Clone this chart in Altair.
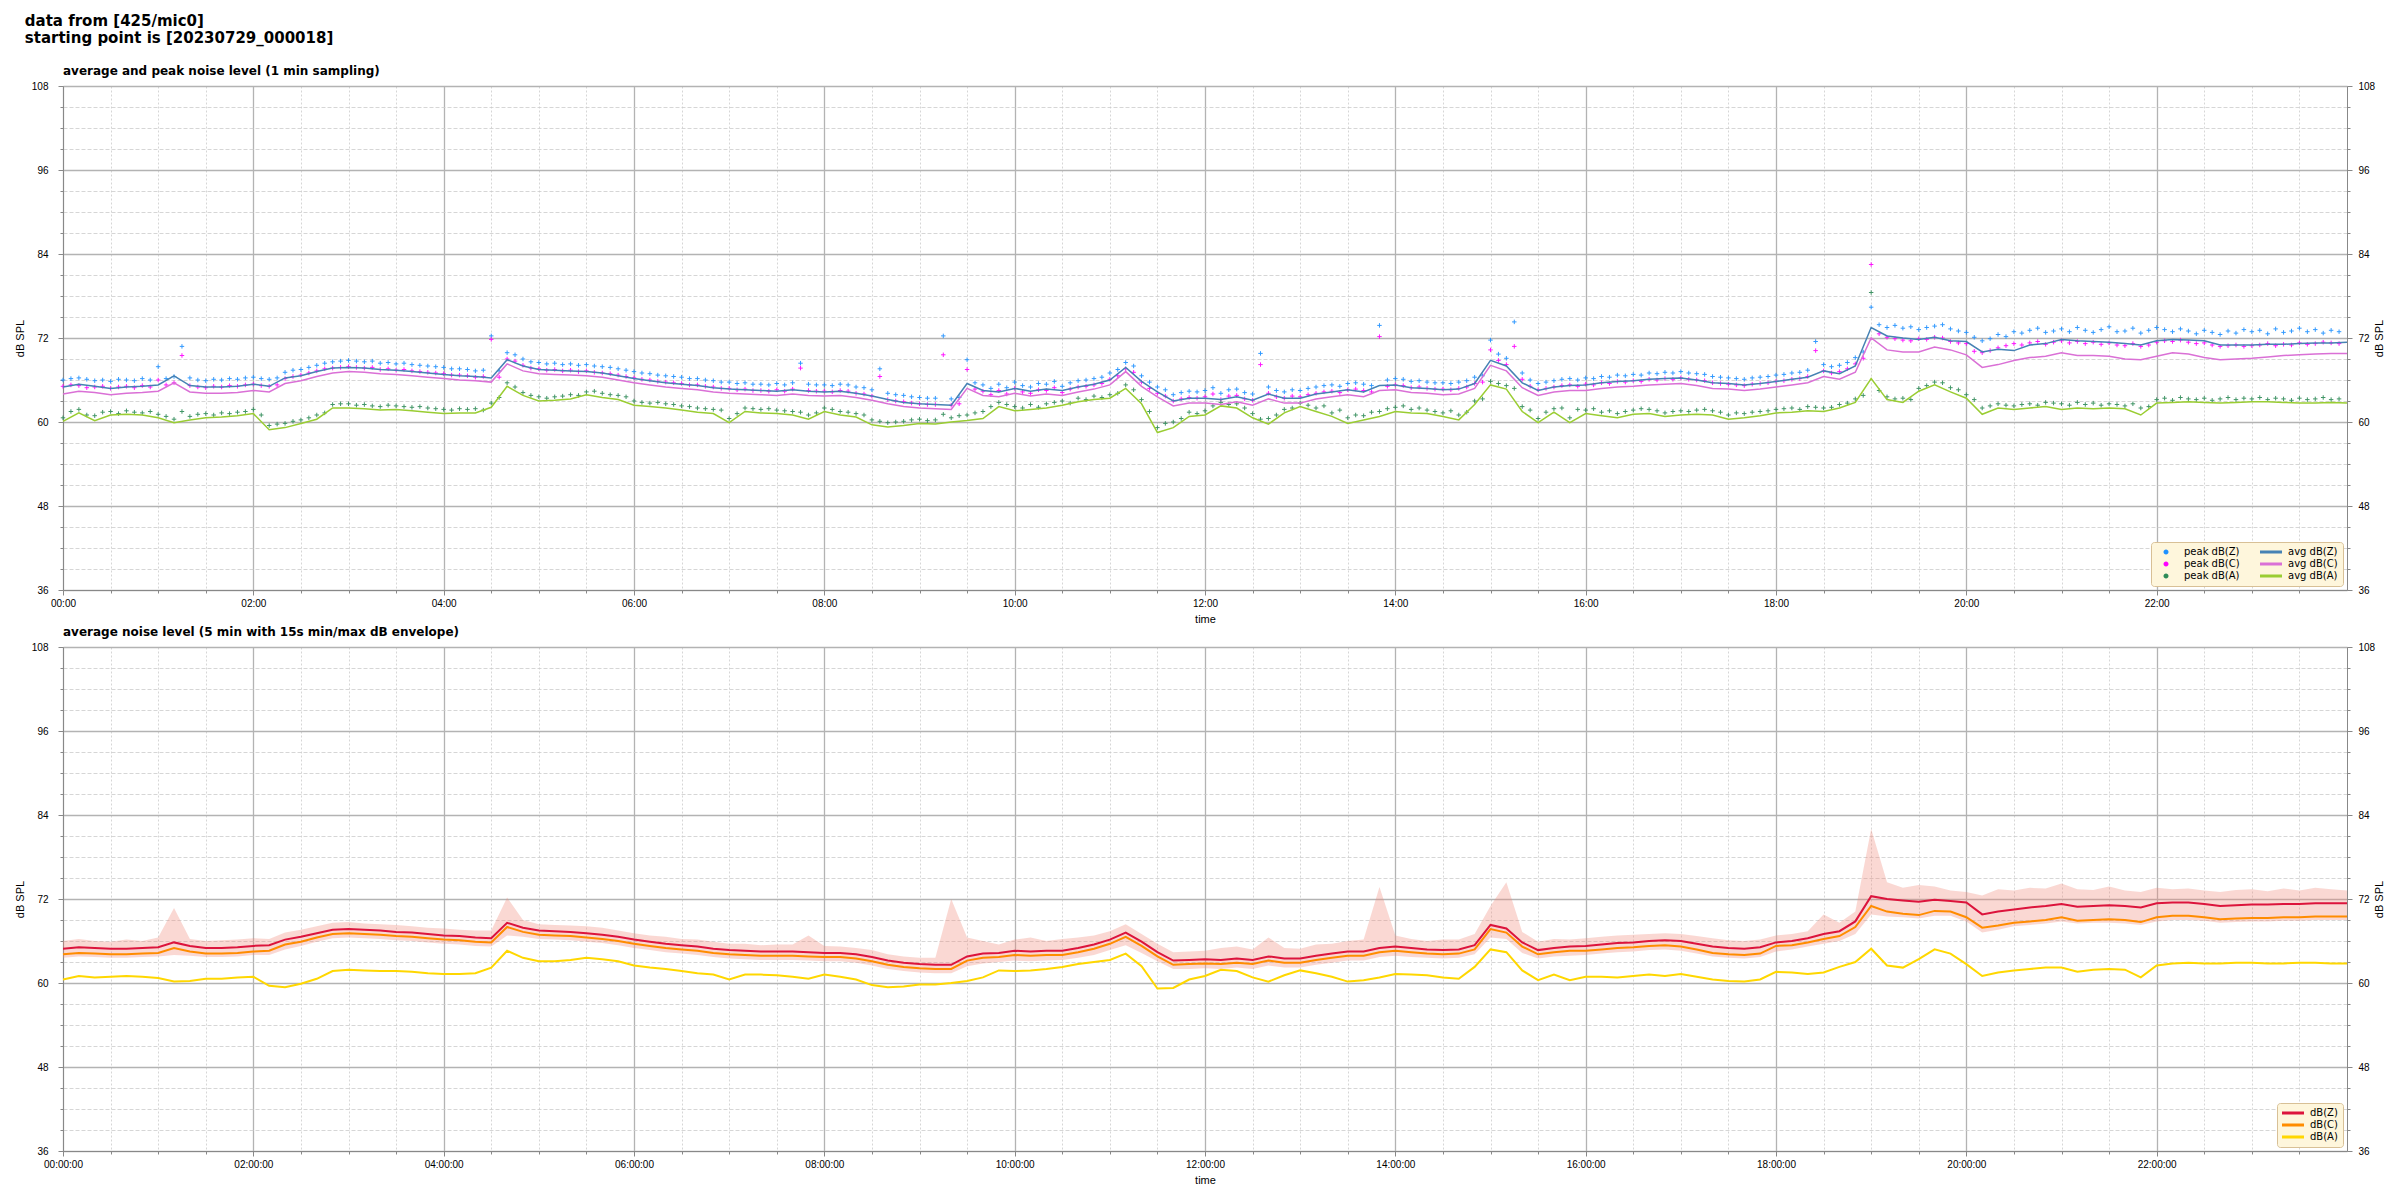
import altair as alt
import pandas as pd

# ---------------- data ----------------
T10 = list(range(0, 1441, 10))      # minutes, 10-min samples (145)
T5 = list(range(0, 1440, 5))        # minutes, 5-min samples (288)

# top panel: 1-min averages (sampled every 10 min)
avg_z = [65.0, 65.4, 65.1, 64.8, 65.0, 65.1,
         65.3, 66.6, 65.2, 65.0, 65.0, 65.1,
         65.4, 65.1, 66.3, 66.6, 67.2, 67.7,
         67.8, 67.7, 67.5, 67.4, 67.2, 67.0,
         66.8, 66.6, 66.5, 66.3, 68.9, 68.0,
         67.5, 67.4, 67.3, 67.2, 67.0, 66.6,
         66.2, 65.9, 65.6, 65.4, 65.2, 64.9,
         64.7, 64.6, 64.5, 64.4, 64.6, 64.4,
         64.3, 64.4, 64.1, 63.7, 63.2, 62.8,
         62.6, 62.5, 62.4, 65.5, 64.5, 64.3,
         64.8, 64.4, 64.7, 64.5, 65.0, 65.4,
         66.0, 67.8, 65.8, 64.3, 63.0, 63.4,
         63.4, 63.2, 63.6, 63.1, 64.0, 63.4,
         63.4, 64.0, 64.3, 64.6, 64.3, 65.2,
         65.3, 64.9, 64.8, 64.6, 64.7, 65.5,
         68.8, 68.0, 65.6, 64.5, 65.0, 65.2,
         65.3, 65.6, 65.8, 65.9, 66.1, 66.2,
         66.3, 66.0, 65.6, 65.5, 65.3, 65.5,
         65.8, 66.1, 66.4, 67.3, 66.9, 68.0,
         73.5, 72.3, 72.0, 71.8, 72.1, 71.6,
         71.5, 70.0, 70.4, 70.2, 71.0, 71.2,
         71.8, 71.6, 71.5, 71.4, 71.2, 71.0,
         71.6, 71.8, 71.7, 71.6, 71.0, 71.0,
         71.0, 71.1, 71.1, 71.2, 71.3, 71.3,
         71.4]
avg_c = [64.0, 64.4, 64.2, 63.9, 64.1, 64.2,
         64.4, 65.6, 64.3, 64.1, 64.1, 64.2,
         64.5, 64.3, 65.5, 65.9, 66.5, 67.0,
         67.2, 67.1, 66.9, 66.8, 66.6, 66.4,
         66.2, 66.0, 65.9, 65.7, 68.3, 67.3,
         66.9, 66.8, 66.7, 66.6, 66.4, 66.0,
         65.6, 65.3, 65.0, 64.8, 64.6, 64.3,
         64.1, 64.0, 63.9, 63.8, 64.0, 63.8,
         63.7, 63.8, 63.5, 63.1, 62.6, 62.2,
         62.0, 61.9, 61.8, 64.8, 63.8, 63.6,
         64.1, 63.7, 64.0, 63.8, 64.3, 64.7,
         65.3, 67.2, 65.1, 63.6, 62.3, 62.7,
         62.7, 62.5, 62.9, 62.4, 63.3, 62.7,
         62.7, 63.3, 63.6, 63.9, 63.6, 64.5,
         64.6, 64.2, 64.1, 63.9, 64.0, 64.8,
         68.1, 67.3, 64.9, 63.8, 64.3, 64.5,
         64.5, 64.8, 65.0, 65.1, 65.3, 65.4,
         65.5, 65.2, 64.8, 64.7, 64.5, 64.7,
         65.0, 65.3, 65.6, 66.5, 66.1, 67.1,
         72.0, 70.3, 70.0, 70.0, 70.7, 70.3,
         69.6, 67.8, 68.2, 68.8, 69.2, 69.4,
         69.9, 69.5, 69.5, 69.4, 69.0, 68.9,
         69.4, 69.9, 69.7, 69.2, 68.9, 69.0,
         69.1, 69.3, 69.5, 69.6, 69.7, 69.8,
         69.8]
avg_a = [60.1, 61.3, 60.2, 61.0, 61.1, 61.0,
         60.6, 59.9, 60.3, 60.6, 60.7, 60.9,
         61.2, 58.9, 59.2, 59.8, 60.4, 62.0,
         62.0, 61.9, 61.7, 61.8, 61.6, 61.4,
         61.2, 61.3, 61.3, 62.1, 65.1, 63.8,
         63.0, 63.1, 63.3, 63.9, 63.5, 63.2,
         62.4, 62.2, 62.0, 61.7, 61.4, 61.2,
         59.9, 61.5, 61.3, 61.2, 61.0, 60.4,
         61.5, 61.0, 60.7, 59.6, 59.3, 59.5,
         59.8, 59.7, 60.0, 60.2, 60.5, 62.2,
         61.6, 61.8, 62.0, 62.4, 62.9, 63.2,
         63.4, 64.8, 62.6, 58.5, 59.2, 60.8,
         61.0, 62.3, 62.0, 60.6, 59.7, 61.3,
         62.2, 61.5, 60.8, 59.8, 60.3, 60.8,
         61.5, 61.3, 61.2, 60.8, 60.3, 62.5,
         65.3, 64.7, 61.5, 59.9, 61.4, 59.9,
         61.2, 60.9, 60.6, 61.1, 61.2, 60.8,
         61.0, 61.1, 61.0, 60.4, 60.6, 60.9,
         61.3, 61.4, 61.6, 61.5, 62.0, 62.8,
         66.2, 63.2, 62.8, 64.4, 65.3, 64.3,
         63.4, 61.1, 62.0, 61.8, 62.0, 62.2,
         61.8, 62.0, 61.9, 62.0, 61.9, 61.0,
         62.7, 62.8, 62.9, 62.8, 62.7, 62.8,
         62.9, 62.9, 62.8, 62.7, 62.7, 62.8,
         62.7]

# top panel: 1-min peaks (sampled every 5 min)
peak_z = [66.0, 66.2, 66.3, 66.1, 65.9, 66.0, 65.8, 66.1, 66.0, 65.9, 66.2, 66.0,
          67.9, 66.2, 66.5, 70.8, 66.3, 66.0, 65.9, 66.1, 66.0, 66.2, 66.1, 66.3,
          66.4, 66.2, 66.1, 66.3, 67.1, 67.4, 67.5, 67.8, 68.1, 68.4, 68.6, 68.7,
          68.8, 68.7, 68.6, 68.7, 68.4, 68.5, 68.3, 68.4, 68.2, 68.1, 68.0, 67.9,
          67.8, 67.6, 67.6, 67.5, 67.3, 67.4, 72.3, 67.3, 69.9, 69.6, 69.0, 68.6,
          68.5, 68.3, 68.4, 68.2, 68.3, 68.1, 68.2, 68.0, 67.9, 67.8, 67.6, 67.4,
          67.2, 67.0, 66.9, 66.7, 66.6, 66.5, 66.4, 66.2, 66.2, 66.0, 65.9, 65.7,
          65.7, 65.5, 65.6, 65.4, 65.4, 65.3, 65.5, 65.3, 65.6, 68.4, 65.4, 65.3,
          65.3, 65.2, 65.4, 65.3, 65.0, 64.9, 64.6, 67.6, 64.1, 63.9, 63.8, 63.6,
          63.5, 63.4, 63.4, 72.3, 63.3, 63.5, 68.9, 65.6, 65.3, 64.8, 65.4, 64.9,
          65.7, 65.2, 65.0, 65.5, 65.4, 65.8, 65.1, 65.6, 65.9, 66.0, 66.2, 66.4,
          67.0, 67.5, 68.5, 68.0, 66.6, 65.7, 65.0, 64.6, 63.9, 64.2, 64.4, 64.3,
          64.5, 64.9, 64.1, 64.6, 64.7, 64.2, 64.0, 69.8, 65.0, 64.5, 64.3, 64.6,
          64.5, 64.8, 65.0, 65.2, 65.3, 65.1, 65.5, 65.6, 65.4, 65.2, 73.8, 66.0,
          66.2, 66.1, 65.8, 65.9, 65.7, 65.6, 65.6, 65.5, 65.7, 65.9, 66.4, 66.6,
          71.7, 69.7, 69.1, 74.3, 67.0, 66.0, 65.5, 65.7, 65.9, 66.1, 66.2, 66.0,
          66.3, 66.2, 66.5, 66.4, 66.7, 66.6, 66.8, 66.7, 67.0, 66.9, 67.1, 67.0,
          67.2, 67.0, 66.9, 66.8, 66.5, 66.4, 66.3, 66.2, 66.1, 66.3, 66.4, 66.5,
          66.7, 66.8, 67.0, 67.1, 67.4, 71.5, 68.2, 67.9, 68.1, 68.5, 69.2, 70.0,
          76.4, 73.9, 73.5, 73.8, 73.4, 73.6, 73.2, 73.5, 73.7, 73.9, 73.3, 73.0,
          72.8, 72.1, 71.6, 71.9, 72.5, 72.2, 72.9, 72.7, 73.1, 73.4, 72.8, 73.0,
          73.3, 72.9, 73.5, 73.1, 72.8, 73.2, 73.6, 72.9, 73.0, 73.4, 72.7, 73.1,
          73.5, 73.2, 72.9, 73.3, 73.0, 72.6, 73.1, 72.8, 72.5, 73.0, 72.7, 73.2,
          72.9, 73.1, 72.6, 73.3, 72.8, 73.0, 73.4, 72.9, 73.2, 72.7, 73.1, 72.9]
peak_c = [65.1, 65.3, 65.2, 64.9, 65.0, 65.1, 64.8, 65.0, 65.1, 64.9, 65.2, 65.0,
          66.0, 65.3, 65.6, 69.5, 65.2, 65.0, 64.9, 65.1, 65.0, 65.2, 65.1, 65.3,
          65.4, 65.2, 65.1, 65.3, 66.2, 66.5, 66.7, 67.0, 67.3, 67.6, 67.7, 67.8,
          67.9, 67.8, 67.7, 67.8, 67.5, 67.6, 67.4, 67.5, 67.3, 67.2, 67.1, 67.0,
          66.9, 66.7, 66.7, 66.6, 66.4, 66.5, 71.8, 66.4, 69.0, 68.7, 68.1, 67.7,
          67.6, 67.4, 67.5, 67.3, 67.4, 67.2, 67.3, 67.1, 67.0, 66.9, 66.7, 66.5,
          66.3, 66.1, 66.0, 65.8, 65.7, 65.6, 65.5, 65.3, 65.3, 65.1, 65.0, 64.8,
          64.8, 64.6, 64.7, 64.5, 64.5, 64.4, 64.6, 64.4, 64.7, 67.7, 64.5, 64.4,
          64.4, 64.3, 64.5, 64.4, 64.1, 64.0, 63.7, 66.5, 63.2, 63.0, 62.9, 62.7,
          62.6, 62.5, 62.5, 69.6, 62.4, 62.6, 67.5, 64.7, 64.4, 63.9, 64.5, 64.0,
          64.8, 64.3, 64.1, 64.6, 64.5, 64.9, 64.2, 64.7, 65.0, 65.1, 65.3, 65.5,
          66.1, 66.6, 67.6, 67.1, 65.7, 64.8, 64.1, 63.7, 63.0, 63.3, 63.5, 63.4,
          63.6, 64.0, 63.2, 63.7, 63.8, 63.3, 63.1, 68.2, 64.1, 63.6, 63.4, 63.7,
          63.6, 63.9, 64.1, 64.3, 64.4, 64.2, 64.6, 64.7, 64.5, 64.3, 72.2, 65.1,
          65.3, 65.2, 64.9, 65.0, 64.8, 64.7, 64.7, 64.6, 64.8, 65.0, 65.5, 65.7,
          70.3, 68.8, 68.2, 70.8, 66.1, 65.1, 64.6, 64.8, 65.0, 65.2, 65.3, 65.1,
          65.4, 65.3, 65.6, 65.5, 65.8, 65.7, 65.9, 65.8, 66.1, 66.0, 66.2, 66.1,
          66.3, 66.1, 66.0, 65.9, 65.6, 65.5, 65.4, 65.3, 65.2, 65.4, 65.5, 65.6,
          65.8, 65.9, 66.1, 66.2, 66.5, 70.2, 67.3, 67.0, 67.2, 67.6, 68.3, 69.1,
          82.5, 72.6, 72.1, 71.9, 71.7, 71.6, 71.9, 71.8, 72.1, 72.0, 71.5, 71.3,
          71.2, 70.1, 69.9, 70.2, 70.6, 70.9, 71.2, 71.0, 71.3, 71.5, 71.1, 71.4,
          71.6, 71.3, 71.5, 71.2, 71.4, 71.1, 71.3, 71.0, 70.9, 71.2, 70.8, 71.0,
          71.4, 71.6, 71.5, 71.7, 71.4, 71.2, 71.3, 71.0, 70.8, 70.9, 71.0, 70.8,
          70.9, 71.0, 71.2, 70.9, 71.1, 71.0, 71.3, 71.1, 71.2, 71.4, 71.3, 71.2]
peak_a = [60.6, 61.5, 61.8, 61.0, 60.9, 61.4, 61.5, 61.2, 61.6, 61.4, 61.3, 61.5,
          61.1, 60.8, 60.4, 61.5, 60.8, 61.1, 61.2, 61.0, 61.3, 61.2, 61.4, 61.5,
          61.8, 61.0, 59.5, 59.7, 59.8, 60.1, 60.3, 60.6, 61.0, 61.3, 62.5, 62.6,
          62.6, 62.4, 62.5, 62.3, 62.2, 62.4, 62.3, 62.2, 62.1, 62.2, 62.0, 61.9,
          61.8, 61.7, 61.9, 61.8, 61.9, 61.7, 62.7, 63.5, 65.6, 65.0, 64.2, 63.8,
          63.6, 63.4, 63.6, 63.7, 63.9, 63.8, 64.3, 64.4, 64.1, 63.9, 63.8, 63.6,
          63.0, 62.8, 62.7, 62.8, 62.6, 62.5, 62.3, 62.2, 62.0, 61.9, 61.8, 61.7,
          60.5, 61.2, 62.0, 61.9, 61.8, 61.9, 61.7, 61.6, 61.5, 61.4, 61.0, 61.3,
          62.0, 61.8, 61.5, 61.4, 61.2, 61.0, 60.3, 60.1, 59.9, 60.0, 60.1, 60.3,
          60.4, 60.2, 60.3, 61.1, 60.6, 60.9, 61.0, 61.3, 61.5, 62.2, 62.8, 62.5,
          62.2, 62.0, 62.5, 62.1, 62.6, 62.8, 63.0, 62.7, 63.4, 63.2, 63.7, 63.5,
          63.9, 64.1, 65.3, 64.6, 63.2, 61.5, 59.2, 59.8, 60.0, 60.5, 61.4, 61.2,
          61.6, 62.3, 62.8, 62.5, 62.6, 62.0, 61.2, 60.4, 60.5, 61.0, 61.8, 62.0,
          62.7, 62.4, 62.0, 62.3, 61.3, 61.7, 60.6, 61.0, 60.9, 61.4, 61.5, 61.9,
          62.1, 62.3, 61.8, 62.0, 61.7, 61.5, 61.3, 61.6, 61.0, 61.4, 63.0, 63.3,
          65.8, 65.5, 65.2, 64.8, 62.2, 61.7, 60.5, 61.4, 61.9, 62.0, 60.6, 61.8,
          61.7, 61.9, 61.4, 61.6, 61.2, 61.5, 61.7, 61.9, 61.8, 61.6, 61.3, 61.5,
          61.6, 61.5, 61.7, 61.8, 61.6, 61.4, 61.0, 61.3, 61.2, 61.4, 61.5, 61.6,
          61.8, 61.9, 62.0, 61.8, 62.2, 62.1, 62.0, 62.1, 62.5, 62.7, 63.3, 63.8,
          78.5, 64.5, 63.6, 63.3, 63.4, 63.2, 64.8, 65.2, 65.7, 65.6, 64.9, 64.6,
          63.9, 63.2, 62.0, 62.3, 62.6, 62.4, 62.3, 62.5, 62.6, 62.4, 62.8, 62.7,
          62.6, 62.4, 62.8, 62.5, 62.7, 62.4, 62.6, 62.5, 62.3, 62.6, 62.0, 62.2,
          63.2, 63.4, 63.1, 63.5, 63.3, 63.2, 63.4, 63.1, 63.3, 63.5, 63.2, 63.4,
          63.3, 63.5, 63.2, 63.4, 63.3, 63.1, 63.4, 63.2, 63.3, 63.5, 63.2, 63.3]

# bottom panel: 5-min averages (sampled every 10 min) and 15 s min/max envelope
bot_z = [64.9, 65.1, 65.0, 64.9, 64.9, 65.0,
         65.1, 65.8, 65.3, 65.0, 65.0, 65.1,
         65.3, 65.4, 66.2, 66.6, 67.1, 67.6,
         67.7, 67.6, 67.5, 67.3, 67.2, 67.0,
         66.8, 66.7, 66.5, 66.4, 68.6, 67.9,
         67.5, 67.4, 67.3, 67.1, 66.9, 66.6,
         66.2, 65.9, 65.6, 65.4, 65.2, 64.9,
         64.7, 64.6, 64.5, 64.5, 64.5, 64.4,
         64.3, 64.3, 64.1, 63.7, 63.2, 62.9,
         62.7, 62.6, 62.6, 63.8, 64.2, 64.3,
         64.6, 64.5, 64.6, 64.6, 65.0, 65.5,
         66.2, 67.2, 65.9, 64.4, 63.2, 63.3,
         63.4, 63.3, 63.5, 63.3, 63.8, 63.5,
         63.5, 63.9, 64.2, 64.5, 64.5, 65.0,
         65.2, 65.0, 64.8, 64.7, 64.8, 65.4,
         68.3, 67.8, 65.8, 64.7, 65.0, 65.2,
         65.3, 65.5, 65.7, 65.8, 66.0, 66.1,
         66.0, 65.6, 65.2, 65.0, 64.9, 65.1,
         65.8, 66.0, 66.4, 67.0, 67.4, 68.8,
         72.4, 72.0, 71.8, 71.6, 71.9, 71.7,
         71.5, 69.8, 70.2, 70.5, 70.8, 71.0,
         71.3, 70.9, 71.0, 71.1, 71.0, 70.8,
         71.4, 71.5, 71.5, 71.3, 71.0, 71.1,
         71.2, 71.2, 71.3, 71.3, 71.4, 71.4,
         71.4]
bot_c = [64.1, 64.3, 64.2, 64.1, 64.1, 64.2,
         64.3, 65.0, 64.5, 64.2, 64.2, 64.3,
         64.5, 64.6, 65.5, 65.9, 66.5, 67.0,
         67.1, 67.0, 66.9, 66.7, 66.6, 66.4,
         66.2, 66.1, 65.9, 65.8, 68.0, 67.3,
         66.9, 66.8, 66.7, 66.5, 66.3, 66.0,
         65.6, 65.3, 65.0, 64.8, 64.6, 64.3,
         64.1, 64.0, 63.9, 63.9, 63.9, 63.8,
         63.7, 63.7, 63.5, 63.1, 62.6, 62.3,
         62.1, 62.0, 62.0, 63.2, 63.6, 63.7,
         64.0, 63.9, 64.0, 64.0, 64.4, 64.9,
         65.6, 66.6, 65.3, 63.8, 62.6, 62.7,
         62.8, 62.7, 62.9, 62.7, 63.2, 62.9,
         62.9, 63.3, 63.6, 63.9, 63.9, 64.4,
         64.6, 64.4, 64.2, 64.1, 64.2, 64.8,
         67.7, 67.2, 65.2, 64.1, 64.4, 64.6,
         64.6, 64.8, 65.0, 65.1, 65.3, 65.4,
         65.2, 64.8, 64.3, 64.1, 64.0, 64.2,
         65.3, 65.4, 65.8, 66.3, 66.7, 68.0,
         71.0, 70.2, 69.9, 69.7, 70.3, 70.2,
         69.4, 67.9, 68.2, 68.6, 68.8, 69.0,
         69.4, 68.9, 69.0, 69.1, 69.0, 68.7,
         69.4, 69.6, 69.6, 69.4, 69.1, 69.2,
         69.3, 69.3, 69.4, 69.4, 69.5, 69.5,
         69.5]
bot_a = [60.5, 61.0, 60.8, 60.9, 61.0, 60.9,
         60.7, 60.2, 60.3, 60.6, 60.6, 60.8,
         60.9, 59.6, 59.4, 59.9, 60.6, 61.7,
         61.9, 61.8, 61.7, 61.7, 61.6, 61.4,
         61.3, 61.3, 61.4, 62.2, 64.6, 63.6,
         63.1, 63.1, 63.3, 63.6, 63.4, 63.1,
         62.5, 62.2, 62.0, 61.7, 61.4, 61.2,
         60.5, 61.2, 61.2, 61.1, 60.9, 60.6,
         61.2, 60.9, 60.5, 59.7, 59.4, 59.5,
         59.8, 59.8, 60.0, 60.3, 60.8, 61.8,
         61.7, 61.8, 62.0, 62.3, 62.7, 63.0,
         63.3, 64.2, 62.4, 59.2, 59.3, 60.5,
         61.0, 61.9, 61.7, 60.8, 60.2, 61.1,
         61.8, 61.4, 60.9, 60.2, 60.4, 60.8,
         61.3, 61.2, 61.1, 60.8, 60.6, 62.3,
         64.8, 64.4, 61.8, 60.4, 61.2, 60.4,
         60.9, 60.9, 60.8, 61.0, 61.2, 61.0,
         61.3, 60.9, 60.5, 60.3, 60.2, 60.5,
         61.6, 61.5, 61.3, 61.5, 62.3, 63.0,
         64.9, 62.5, 62.2, 63.4, 64.8, 64.2,
         62.7, 61.0, 61.5, 61.8, 62.0, 62.2,
         62.2, 61.6, 61.9, 62.0, 61.9, 60.8,
         62.5, 62.8, 62.9, 62.8, 62.8, 62.9,
         62.9, 62.8, 62.8, 62.9, 62.9, 62.8,
         62.8]
env_hi = [66.0, 66.3, 66.0, 65.9, 66.2, 66.0,
          66.5, 70.7, 66.3, 66.0, 66.1, 66.2,
          66.4, 66.3, 67.2, 67.6, 68.1, 68.6,
          68.7, 68.5, 68.4, 68.3, 68.1, 67.9,
          67.8, 67.6, 67.5, 67.5, 72.2, 69.0,
          68.4, 68.3, 68.2, 68.1, 67.9, 67.5,
          67.1, 66.8, 66.6, 66.3, 66.2, 65.9,
          65.6, 65.6, 65.4, 65.5, 65.5, 66.8,
          65.3, 65.2, 65.0, 64.7, 64.1, 63.8,
          63.6, 63.6, 72.0, 66.5, 66.0, 65.5,
          66.2, 66.5, 66.0, 66.3, 66.5, 66.8,
          67.4, 68.4, 67.0, 65.6, 64.4, 64.5,
          64.6, 65.0, 65.2, 64.8, 66.5, 65.0,
          64.9, 65.5, 65.6, 66.0, 66.2, 73.7,
          66.8, 66.3, 66.0, 66.2, 66.2, 67.0,
          71.0, 74.4, 67.3, 65.9, 66.3, 66.2,
          66.4, 66.6, 66.8, 66.9, 67.0, 67.1,
          67.0, 66.7, 66.4, 66.1, 66.0, 66.2,
          66.8, 67.0, 67.4, 69.8, 68.6, 70.2,
          82.0, 74.4, 73.6, 74.0, 73.8, 73.2,
          73.0, 72.5, 73.4, 73.2, 73.6, 73.5,
          74.2, 73.4, 73.3, 73.8, 73.2, 73.0,
          73.6, 73.4, 73.5, 73.2, 73.0, 73.3,
          73.4, 73.1, 73.5, 73.2, 73.6, 73.4,
          73.2]
env_lo = [63.6, 63.8, 63.7, 63.6, 63.6, 63.7,
          63.8, 64.0, 63.9, 63.7, 63.7, 63.8,
          64.0, 64.0, 64.8, 65.3, 65.9, 66.4,
          66.5, 66.4, 66.3, 66.1, 66.0, 65.8,
          65.6, 65.5, 65.3, 65.2, 66.8, 66.6,
          66.3, 66.2, 66.1, 65.9, 65.7, 65.4,
          65.0, 64.7, 64.4, 64.2, 64.0, 63.7,
          63.5, 63.4, 63.3, 63.3, 63.3, 63.2,
          63.1, 63.1, 62.9, 62.5, 62.0, 61.7,
          61.5, 61.4, 61.4, 62.4, 62.8, 63.0,
          63.2, 63.1, 63.2, 63.3, 63.6, 64.0,
          64.7, 65.4, 64.3, 63.1, 62.0, 62.0,
          62.1, 62.0, 62.2, 62.0, 62.5, 62.2,
          62.2, 62.6, 62.9, 63.2, 63.2, 63.7,
          63.9, 63.7, 63.6, 63.5, 63.6, 64.1,
          66.5, 66.3, 64.3, 63.5, 63.8, 63.9,
          64.0, 64.2, 64.4, 64.5, 64.7, 64.8,
          64.6, 64.2, 63.8, 63.6, 63.5, 63.7,
          64.5, 64.8, 65.2, 65.6, 66.0, 67.0,
          69.8, 69.5, 69.4, 69.2, 69.6, 69.6,
          68.8, 67.2, 67.6, 68.1, 68.3, 68.5,
          68.8, 68.5, 68.6, 68.6, 68.5, 68.3,
          68.8, 69.0, 69.0, 68.9, 68.6, 68.7,
          68.8, 68.8, 68.9, 68.9, 69.0, 69.0,
          69.0]

# legend order (column-major, 2 columns) and colours
TOP_NAMES = ["peak dB(Z)", "peak dB(C)", "peak dB(A)", "avg dB(Z)", "avg dB(C)", "avg dB(A)"]
TOP_COLORS = ["#1e90ff", "#ff00ff", "#2e8b57", "#4682b4", "#da70d6", "#9acd32"]
BOT_NAMES = ["dB(Z)", "dB(C)", "dB(A)"]
BOT_COLORS = ["#dc143c", "#ff8c00", "#ffd700"]
# drawing scales (different domain order so they do not merge with the legend scales)
TOP_DRAW_NAMES = ["avg dB(A)", "avg dB(C)", "avg dB(Z)", "peak dB(A)", "peak dB(C)", "peak dB(Z)"]
TOP_DRAW_COLORS = ["#9acd32", "#da70d6", "#4682b4", "#2e8b57", "#ff00ff", "#1e90ff"]
BOT_DRAW_NAMES = ["dB(A)", "dB(C)", "dB(Z)"]
BOT_DRAW_COLORS = ["#ffd700", "#ff8c00", "#dc143c"]


def long_df(times, series):
    rows = []
    for name, vals in series:
        for t, v in zip(times, vals):
            rows.append({"t": t, "db": v, "series": name})
    return pd.DataFrame(rows)


df_peaks = long_df(T5, [("peak dB(Z)", peak_z), ("peak dB(C)", peak_c), ("peak dB(A)", peak_a)])
df_avg = long_df(T10, [("avg dB(A)", avg_a), ("avg dB(C)", avg_c), ("avg dB(Z)", avg_z)])
df_bot = long_df(T10, [("dB(A)", bot_a), ("dB(C)", bot_c), ("dB(Z)", bot_z)])
df_env = pd.DataFrame({"t": T10, "lo": env_lo, "hi": env_hi})
# legend key tables (one row per legend entry; drawn with size 0)
df_key_top = pd.DataFrame({"t": [0] * 6, "db": [60.0] * 6, "key": TOP_NAMES})
df_key_bot = pd.DataFrame({"t": [0] * 3, "db": [60.0] * 3, "key": BOT_NAMES})

# ---------------- styling ----------------
FONT = "DejaVu Sans"
BG = "#fef6dc"
MAJ = "#b3b3b3"
MIN = "#cbcbcb"
PLUS = "M-1,0H1M0,-1V1"
DOT = "M1.5,0A0.5,0.5 0 1,1 0.5,0A0.5,0.5 0 1,1 1.5,0Z"
BAR = "M-1,-0.3H3.4V0.3H-1Z"

xscale = alt.Scale(domain=[0, 1440], nice=False, zero=False)
yscale = alt.Scale(domain=[36, 108], nice=False, zero=False)


def x_axis(suffix):
    return alt.Axis(
        values=list(range(0, 1440, 30)),
        labelExpr="datum.value % 120 === 0 ? (floor(datum.value/60) < 10 ? '0' : '') + floor(datum.value/60) + '" + suffix + "' : ''",
        labelFlush=False, labelOverlap=False, labelPadding=3,
        tickSize={"condition": {"test": "datum.value % 120 === 0", "value": 5}, "value": 3},
        gridColor={"condition": {"test": "datum.value % 120 === 0", "value": MAJ}, "value": MIN},
        gridDash={"condition": {"test": "datum.value % 120 === 0", "value": []}, "value": [2, 2]},
        gridWidth={"condition": {"test": "datum.value % 120 === 0", "value": 1.3}, "value": 0.8},
        titlePadding=5, titleFontWeight="normal", titleFontSize=11,
    )


def y_axis(orient, grid):
    return alt.Axis(
        orient=orient,
        values=list(range(36, 109, 3)),
        labelExpr="datum.value % 12 === 0 ? datum.label : ''",
        labelPadding=10 if orient == "left" else 6, labelFlush=False, labelOverlap=False,
        tickSize={"condition": {"test": "datum.value % 12 === 0", "value": 5}, "value": 3},
        grid=grid,
        gridColor={"condition": {"test": "datum.value % 12 === 0", "value": MAJ}, "value": MIN},
        gridDash={"condition": {"test": "datum.value % 12 === 0", "value": []}, "value": [4, 2]},
        gridWidth={"condition": {"test": "datum.value % 12 === 0", "value": 1.3}, "value": 0.8},
        titleAngle=270, titlePadding=6 if orient == "left" else 10,
        titleFontWeight="normal", titleFontSize=11,
    )


def legend(extra):
    return alt.Legend(
        title=None, orient="bottom-right", offset=4,
        fillColor=BG, strokeColor="#d8c096", cornerRadius=3, padding=5,
        labelFont=FONT, labelFontSize=10, labelColor="black",
        symbolSize=100, symbolStrokeWidth=0, symbolOpacity=1,
        rowPadding=2, labelOffset=18, **extra,
    )


def panel(layers_left, dummy_df, title, suffix, width=2284, height=504):
    X = alt.X("t:Q", scale=xscale, axis=x_axis(suffix), title="time")
    YL = alt.Y("db:Q", scale=yscale, axis=y_axis("left", True), title="dB SPL")
    YR = alt.Y("db:Q", scale=yscale, axis=y_axis("right", False), title="dB SPL")
    inner = alt.layer(*[f(X, YL) for f in layers_left])
    right = alt.Chart(dummy_df).mark_point(opacity=0, size=1).encode(x=X, y=YR)
    return alt.layer(inner, right).resolve_scale(y="independent").properties(
        width=width, height=height,
        title=alt.TitleParams(title, anchor="start", frame="group", fontSize=12,
                              fontWeight="bold", font=FONT, offset=3),
    )


top_stroke = alt.Scale(domain=TOP_DRAW_NAMES, range=TOP_DRAW_COLORS)


def peaks_layer(X, Y):
    return alt.Chart(df_peaks).mark_point(shape=PLUS, size=20, strokeWidth=1, filled=False, opacity=0.9).encode(
        x=X, y=Y, stroke=alt.Stroke("series:N", scale=top_stroke, legend=None))


def avg_layer(X, Y):
    return alt.Chart(df_avg).mark_line(strokeWidth=1.5).encode(
        x=X, y=Y, stroke=alt.Stroke("series:N", scale=top_stroke, legend=None))


def top_legend_layer(X, Y):
    leg = legend({"columns": 2, "columnPadding": 20})
    return alt.Chart(df_key_top).mark_point(filled=True, size=0, opacity=1).encode(
        x=X, y=Y,
        color=alt.Color("key:N", scale=alt.Scale(domain=TOP_NAMES, range=TOP_COLORS), legend=leg),
        shape=alt.Shape("key:N", scale=alt.Scale(domain=TOP_NAMES, range=[DOT, DOT, DOT, BAR, BAR, BAR]), legend=leg),
    )


bot_stroke = alt.Scale(domain=BOT_DRAW_NAMES, range=BOT_DRAW_COLORS)


def env_layer(X, Y):
    return alt.Chart(df_env).mark_area(color="#f08878", opacity=0.33).encode(
        x=X, y=alt.Y("lo:Q", scale=yscale, axis=y_axis("left", True), title="dB SPL"), y2="hi:Q")


def bot_layer(X, Y):
    return alt.Chart(df_bot).mark_line(strokeWidth=2).encode(
        x=X, y=Y, stroke=alt.Stroke("series:N", scale=bot_stroke, legend=None))


def bot_legend_layer(X, Y):
    leg = legend({"symbolType": BAR})
    return alt.Chart(df_key_bot).mark_point(filled=True, size=0, opacity=1, shape=BAR).encode(
        x=X, y=Y,
        color=alt.Color("key:N", scale=alt.Scale(domain=BOT_NAMES, range=BOT_COLORS), legend=leg),
    )


top = panel([peaks_layer, avg_layer, top_legend_layer], df_avg,
            "average and peak noise level (1 min sampling)", ":00")
bottom = panel([env_layer, bot_layer, bot_legend_layer], df_bot,
               "average noise level (5 min with 15s min/max dB envelope)", ":00:00")

chart = alt.vconcat(top, bottom, spacing=0).resolve_scale(
    x="independent", y="independent", color="independent", shape="independent", stroke="independent"
).properties(
    title=alt.TitleParams(["data from [425/mic0]", "starting point is [20230729_000018]"],
                          anchor="start", fontSize=15, fontWeight="bold", font=FONT,
                          offset=19, dx=11, lineHeight=17),
).configure_view(
    fill=BG, stroke="black", strokeWidth=1.5
).configure_axis(
    labelFont=FONT, labelFontSize=8, labelColor="#222222",
    titleFont=FONT, titleFontSize=11, titleFontWeight="normal", titleColor="black",
    domainColor="black", domainWidth=1.5, tickColor="black", tickWidth=1,
).configure(background="white")

chart.save("out.html", embed_options={"renderer": "svg", "actions": False})
